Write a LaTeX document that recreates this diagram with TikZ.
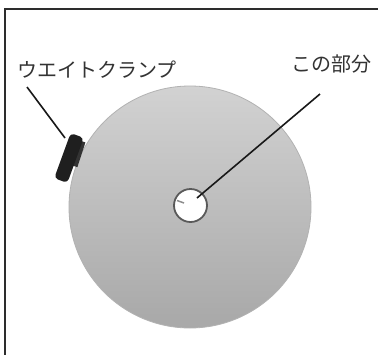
\documentclass[tikz,border=0pt]{standalone}
\usepackage{fontspec}
\usepackage{tikz}
\usetikzlibrary{shapes,arrows}
\newfontfamily\jpfont{Noto Sans CJK JP}
\definecolor{diskhi}{RGB}{210,210,210}
\definecolor{disklo}{RGB}{168,168,168}
\definecolor{framegray}{RGB}{45,45,45}

\tikzset{
  label/.style={font=\jpfont\fontsize{20}{22}\selectfont, text=black!80, inner sep=0pt},
  leader/.style={line width=1.6pt, black!90}
}

\begin{document}
\begin{tikzpicture}[x=1pt,y=-1pt]
\clip (0,0) rectangle (378,354);
\fill[white] (0,0) rectangle (378,354);
\draw[line width=2.2pt, framegray] (5,400) |- (400,9);
%
% weight disk
\shade[top color=diskhi, bottom color=disklo] (190,207) circle (121);
\draw[line width=0.8pt, black!30] (190,207) circle (121);
\fill[white] (190.5,205.5) circle (16.5);
\draw[line width=1.8pt, black!65] (190.5,205.5) circle (16.5);
\draw[line width=1.5pt, black!45] (177,200.5) -- (184,203);
%
% clamp knob
\fill[black!80, rotate around={-18:(76,152)}] (72,140) rectangle (82,166);
\fill[black!88, rotate around={-20:(69,158)}, rounded corners=4pt]
  (62,134) rectangle (76,182);
%
\node[label] (clamplabel) at (97,70) {ウエイトクランプ};
\node[label] (partlabel) at (331,64) {この部分};
\coordinate (clamptip) at (27,87);
\coordinate (clamp) at (65,138);
\coordinate (parttip) at (320,94);
\coordinate (hole) at (197,198);
\draw[leader] (clamptip) -- (clamp);
\draw[leader] (parttip) -- (hole);
\end{tikzpicture}
\end{document}
